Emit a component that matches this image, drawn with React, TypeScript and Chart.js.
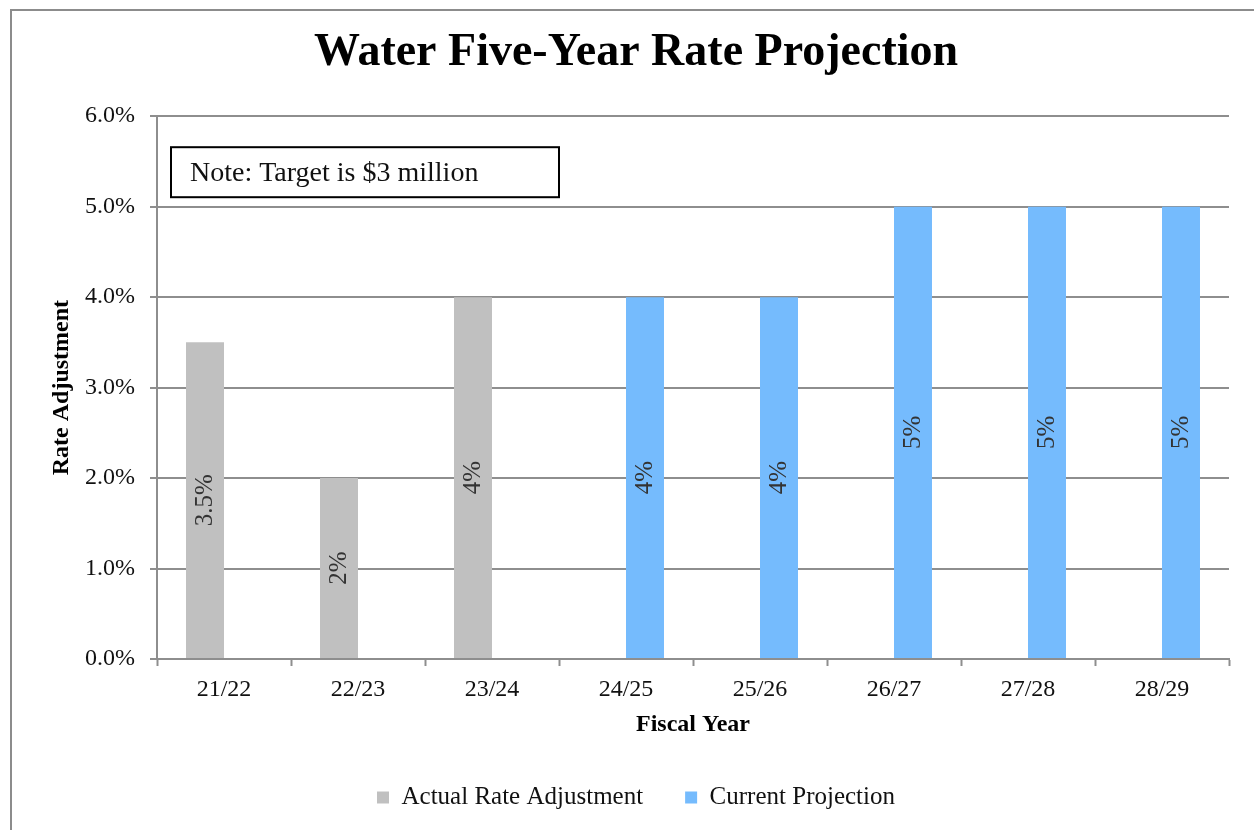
import React, { useEffect, useRef } from "react";
import { Chart, registerables } from "chart.js";

Chart.register(...registerables);

const categories = ["21/22", "22/23", "23/24", "24/25", "25/26", "26/27", "27/28", "28/29"];
const actualValues = [3.5, 2.0, 4.0, null, null, null, null, null];
const projectionValues = [null, null, null, 4.0, 4.0, 5.0, 5.0, 5.0];
const actualLabels = ["3.5%", "2%", "4%", "", "", "", "", ""];
const projectionLabels = ["", "", "", "4%", "4%", "5%", "5%", "5%"];
const noteText = "Note: Target is $3 million";

const FONT = "'Liberation Serif', 'Times New Roman', serif";
const GRID = "#8e8e8e";

const labelPlugin = {
  id: "barLabels",
  afterDatasetsDraw(chart: any) {
    const ctx = chart.ctx;
    const sets = [actualLabels, projectionLabels];
    ctx.save();
    ctx.font = `25px ${FONT}`;
    ctx.fillStyle = "#333333";
    ctx.textAlign = "center";
    ctx.textBaseline = "middle";
    sets.forEach((labels, di) => {
      const meta = chart.getDatasetMeta(di);
      meta.data.forEach((el: any, i: number) => {
        const txt = labels[i];
        if (!txt) return;
        const cx = el.x;
        const cy = (el.y + el.base) / 2;
        ctx.save();
        ctx.translate(cx, cy);
        ctx.rotate(-Math.PI / 2);
        ctx.fillText(txt, 0, 0);
        ctx.restore();
      });
    });
    ctx.restore();
  },
};

const notePlugin = {
  id: "noteBox",
  afterDraw(chart: any) {
    const ctx = chart.ctx;
    const a = chart.chartArea;
    const x = a.left + 14;
    const y = a.top + 31;
    ctx.save();
    ctx.fillStyle = "#ffffff";
    ctx.fillRect(x, y, 388, 50);
    ctx.strokeStyle = "#000000";
    ctx.lineWidth = 2;
    ctx.strokeRect(x, y, 388, 50);
    ctx.font = `28px ${FONT}`;
    ctx.fillStyle = "#111111";
    ctx.textAlign = "left";
    ctx.textBaseline = "middle";
    ctx.fillText(noteText, x + 19, y + 26);
    ctx.restore();
  },
};

export default function App() {
  const ref = useRef<HTMLCanvasElement | null>(null);

  useEffect(() => {
    if (!ref.current) return;
    const chart = new Chart(ref.current, {
      type: "bar",
      data: {
        labels: categories,
        datasets: [
          {
            label: "Actual Rate Adjustment",
            data: actualValues as any,
            backgroundColor: "#c0c0c0",
            borderWidth: 0,
            categoryPercentage: 0.567,
            barPercentage: 1.0,
          },
          {
            label: "Current Projection",
            data: projectionValues as any,
            backgroundColor: "#75bbfd",
            borderWidth: 0,
            categoryPercentage: 0.567,
            barPercentage: 1.0,
          },
        ],
      },
      options: {
        responsive: false,
        animation: false,
        layout: { padding: { top: 0, left: 31, right: 25, bottom: 10 } },
        plugins: {
          title: {
            display: true,
            text: "Water Five-Year Rate Projection",
            color: "#000000",
            font: { family: FONT, size: 46, weight: "bold" },
            padding: { top: 15, bottom: 35 },
          },
          legend: {
            display: true,
            position: "bottom",
            labels: {
              color: "#111111",
              font: { family: FONT, size: 25 },
              boxWidth: 12,
              boxHeight: 12,
              padding: 42,
            },
          },
          tooltip: { enabled: false },
        },
        scales: {
          x: {
            offset: true,
            grid: {
              display: true,
              offset: true,
              drawOnChartArea: false,
              drawTicks: true,
              tickLength: 7,
              tickWidth: 2,
              tickColor: GRID,
            },
            border: { display: true, color: GRID, width: 2 },
            ticks: {
              color: "#111111",
              font: { family: FONT, size: 24 },
              padding: 9,
            },
            title: {
              display: true,
              text: "Fiscal Year",
              color: "#000000",
              font: { family: FONT, size: 24, weight: "bold" },
              padding: { top: 4, bottom: 4 },
            },
            afterFit: (s: any) => {
              s.height = 84;
            },
          },
          y: {
            min: 0,
            max: 6,
            ticks: {
              stepSize: 1,
              color: "#111111",
              font: { family: FONT, size: 24 },
              padding: 15,
              callback: (v: any) => Number(v).toFixed(1) + "%",
            },
            grid: {
              color: GRID,
              lineWidth: 2,
              drawTicks: true,
              tickLength: 7,
              tickColor: GRID,
            },
            border: { display: true, color: GRID, width: 2 },
            title: {
              display: true,
              text: "Rate Adjustment",
              color: "#000000",
              font: { family: FONT, size: 24, weight: "bold" },
              padding: { top: 4, bottom: 4 },
            },
            afterFit: (s: any) => {
              s.width = 114;
            },
          },
        },
      },
      plugins: [labelPlugin, notePlugin],
    });
    return () => chart.destroy();
  }, []);

  return (
    <div
      style={{
        position: "fixed",
        left: 10,
        top: 9,
        width: 1244,
        height: 821,
        boxSizing: "border-box",
        borderLeft: "2px solid #8c8c8c",
        borderTop: "2px solid #8c8c8c",
        background: "#ffffff",
      }}
    >
      <canvas ref={ref} width={1242} height={819} style={{ display: "block" }} />
    </div>
  );
}
